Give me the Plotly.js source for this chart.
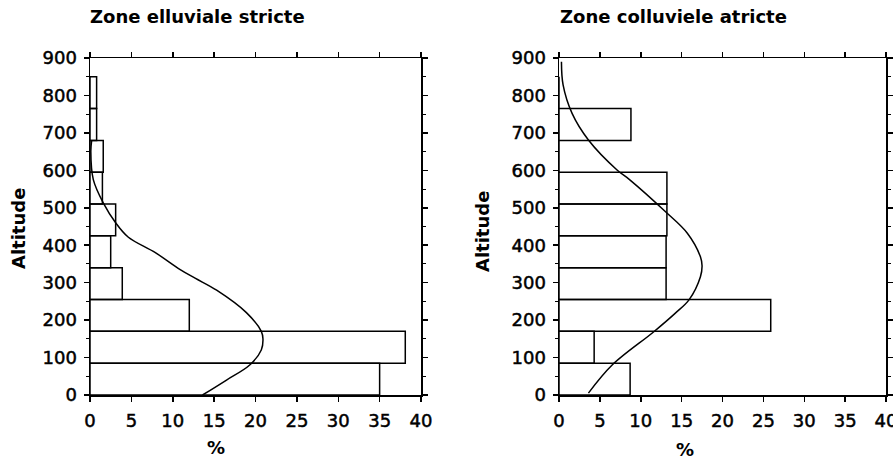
<!DOCTYPE html>
<html>
<head>
<meta charset="utf-8">
<script src="https://cdn.plot.ly/plotly-3.0.1.min.js"></script>
<style>
html,body{margin:0;padding:0;background:#fff}
#chart{width:893px;height:468px}
#chart .xtick text, #chart .ytick text, #chart .x2tick text, #chart .y2tick text{stroke:#000;stroke-width:0.5px}
</style>
</head>
<body>
<div id="chart"></div>
<script>
// Altitude classes (class centres, width 85)
const altitudeClasses = [42.5, 127.5, 212.5, 297.5, 382.5, 467.5, 552.5, 637.5, 722.5, 807.5];
const classWidth = 85;
// Zone elluviale stricte : % per altitude class
const elluvialePct = [35.0, 38.1, 12.0, 3.9, 2.5, 3.1, 1.5, 1.6, 0.8, 0.8];
// Zone colluviale stricte : % per altitude class
const colluvialePct = [8.7, 4.3, 25.9, 13.1, 13.1, 13.2, 13.2, 0, 8.8, 0];

// Fitted curves
const elluvialeCurveAlt = [0, 40, 80, 120, 150, 170, 220, 280, 312, 335, 380, 422, 460, 513, 575, 650, 680];
const elluvialeCurvePct = [13.6, 16.5, 19.3, 20.7, 20.9, 20.7, 18.9, 15.3, 12.7, 10.9, 7.9, 4.6, 3.1, 1.6, 0.4, 0.1, 0.2];
const colluvialeCurveAlt = [5, 80, 169, 218, 254, 316, 345, 369, 432, 490, 574, 601, 681, 752, 828, 890];
const colluvialeCurvePct = [3.6, 6.5, 11.6, 14.2, 15.9, 17.3, 17.5, 17.3, 15.7, 13.0, 8.7, 7.1, 3.6, 1.6, 0.5, 0.3];

const panelTitles = ["Zone elluviale stricte", "Zone colluviele atricte"];
const xTicks = [0, 5, 10, 15, 20, 25, 30, 35, 40];
const yTicks = [0, 100, 200, 300, 400, 500, 600, 700, 800, 900];

const W = 893, H = 468;
const px = v => v / W, py = v => 1 - v / H;

const barStyle = {color: 'rgba(255,255,255,0)', line: {color: '#000', width: 1.5}};
const lineStyle = {color: '#000', width: 1.5, shape: 'spline', smoothing: 1};

const traces = [
  {type: 'bar', orientation: 'h', y: altitudeClasses, x: elluvialePct, width: classWidth, base: 0,
   marker: barStyle, xaxis: 'x', yaxis: 'y', hoverinfo: 'none'},
  {type: 'scatter', mode: 'lines', y: elluvialeCurveAlt, x: elluvialeCurvePct, line: lineStyle,
   xaxis: 'x', yaxis: 'y', hoverinfo: 'none'},
  {type: 'bar', orientation: 'h', y: altitudeClasses, x: colluvialePct, width: classWidth, base: 0,
   marker: barStyle, xaxis: 'x2', yaxis: 'y2', hoverinfo: 'none'},
  {type: 'scatter', mode: 'lines', y: colluvialeCurveAlt, x: colluvialeCurvePct, line: lineStyle,
   xaxis: 'x2', yaxis: 'y2', hoverinfo: 'none'}
];

const tickFont = {family: 'DejaVu Sans', size: 18, color: '#000'};
function xAxis(d0, d1, anchor) {
  return {domain: [px(d0), px(d1)], anchor: anchor, range: [0, 40], tickvals: xTicks,
    ticktext: xTicks.map(String), ticks: 'outside', ticklen: 5, tickwidth: 1.5, tickcolor: '#000',
    showline: true, linecolor: '#000', linewidth: 1.5, mirror: 'ticks', showgrid: false,
    zeroline: false, tickfont: tickFont, ticklabelstandoff: 4, ticklabeloverflow: 'allow',
    fixedrange: true};
}
function yAxis(anchor) {
  return {domain: [py(395), py(58)], anchor: anchor, range: [0, 900], tickvals: yTicks,
    ticktext: yTicks.map(String), ticks: 'outside', ticklen: 5, tickwidth: 1.5, tickcolor: '#000',
    minor: {dtick: 50, tick0: 0, ticks: 'outside', ticklen: 3, tickwidth: 1, tickcolor: '#000'},
    showline: true, linecolor: '#000', linewidth: 1.5, mirror: 'ticks', showgrid: false,
    zeroline: false, tickfont: tickFont, ticklabelstandoff: 3, fixedrange: true};
}

const boldFont = {family: 'DejaVu Sans', size: 18, color: '#000', weight: 'bold'};
const ann = (text, x, y, opts) => Object.assign({text: text, xref: 'paper', yref: 'paper',
  x: px(x), y: py(y), showarrow: false, font: boldFont, xanchor: 'center', yanchor: 'middle'}, opts || {});

const layout = {
  width: W, height: H, margin: {l: 0, r: 0, t: 0, b: 0},
  paper_bgcolor: '#fff', plot_bgcolor: '#fff', showlegend: false, barmode: 'overlay',
  xaxis: xAxis(90, 421, 'y'), yaxis: yAxis('x'),
  xaxis2: xAxis(559, 886, 'y2'), yaxis2: yAxis('x2'),
  annotations: [
    ann('<b>' + panelTitles[0] + '</b>', 88, 17, {xanchor: 'left'}),
    ann('<b>' + panelTitles[1] + '</b>', 558, 17, {xanchor: 'left'}),
    ann('<b>Altitude</b>', 18, 229, {textangle: -90}),
    ann('<b>Altitude</b>', 482, 232, {textangle: -90}),
    ann('<b>%</b>', 216, 447),
    ann('<b>%</b>', 685, 449)
  ]
};

Plotly.newPlot('chart', traces, layout, {displayModeBar: false, staticPlot: true});
</script>
</body>
</html>
